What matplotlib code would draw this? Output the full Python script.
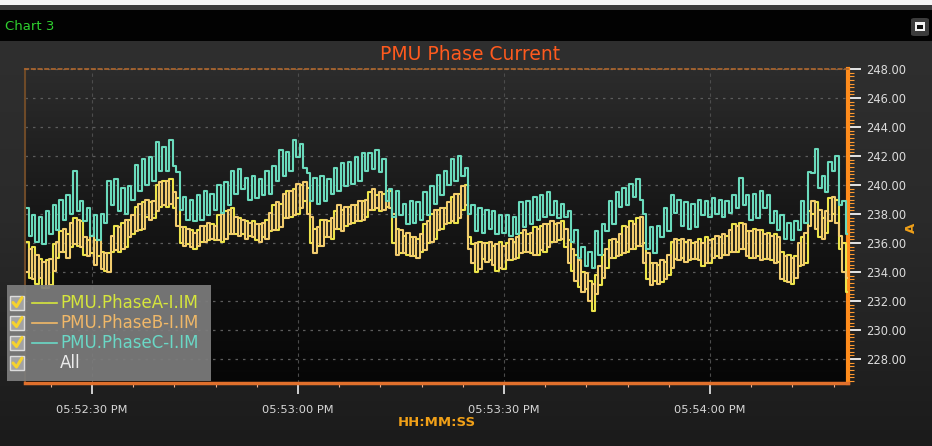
import numpy as np
import pandas as pd
import matplotlib
matplotlib.use("Agg")
import matplotlib.pyplot as plt
import matplotlib.dates as mdates
from matplotlib.patches import Rectangle, FancyBboxPatch
from matplotlib.lines import Line2D
from matplotlib.colors import LinearSegmentedColormap
from matplotlib.ticker import MultipleLocator

# ---------------- data (A, one sample every 0.5 s) ----------------
phase_a = [
    236.1, 233.6, 235.7, 233.2, 234.9, 232.9, 234.8, 233.1, 235.9, 235.0,
    236.8, 235.4, 236.6, 235.7, 237.7, 235.8, 237.5, 235.2, 236.2, 235.3,
    236.2, 235.1, 235.4, 234.1, 235.3, 235.4, 237.2, 235.4, 237.4, 235.7,
    237.6, 236.6, 238.5, 236.9, 238.8, 237.8, 238.8, 237.7, 240.0, 238.5,
    240.3, 238.5, 240.4, 238.4, 239.1, 236.0, 237.1, 235.9, 236.9, 235.6,
    236.9, 236.1, 237.2, 236.2, 237.3, 236.2, 237.9, 236.1, 238.2, 236.6,
    238.4, 236.6, 237.7, 236.6, 237.5, 236.5, 237.5, 236.2, 237.3, 236.4,
    237.6, 236.8, 238.6, 236.9, 238.7, 237.7, 239.6, 237.8, 239.7, 238.0,
    240.0, 238.9, 239.8, 236.0, 237.0, 235.8, 237.6, 236.4, 237.5, 236.3,
    238.2, 237.0, 238.3, 237.2, 238.5, 237.4, 238.6, 237.5, 238.9, 237.8,
    239.5, 238.3, 239.3, 238.2, 239.4, 238.5, 239.6, 236.0, 237.0, 235.3,
    236.5, 235.2, 236.4, 235.1, 236.3, 235.4, 237.3, 236.0, 238.0, 236.3,
    238.3, 237.0, 238.4, 237.4, 239.2, 237.4, 239.4, 238.3, 240.0, 236.4,
    235.9, 234.0, 236.1, 234.9, 236.0, 234.8, 235.8, 234.1, 236.1, 234.2,
    236.0, 234.8, 236.1, 235.0, 236.7, 235.4, 236.6, 235.3, 237.1, 235.2,
    237.2, 235.4, 237.3, 236.1, 237.3, 236.2, 237.5, 235.7, 236.2, 234.1,
    235.2, 233.0, 234.0, 232.8, 233.4, 231.3, 233.8, 233.1, 235.2, 234.3,
    236.2, 235.0, 236.1, 235.2, 237.2, 235.4, 237.5, 235.6, 237.7, 235.8,
    236.0, 233.5, 234.6, 233.4, 234.5, 233.3, 234.7, 233.8, 236.1, 234.9,
    236.2, 235.0, 236.1, 234.8, 236.0, 234.9, 236.3, 234.4, 236.4, 234.6,
    236.3, 235.1, 236.4, 235.2, 236.5, 235.4, 237.3, 235.4, 237.4, 235.6,
    236.8, 235.0, 237.0, 235.1, 236.9, 234.9, 236.7, 234.8, 236.6, 234.7,
    235.4, 233.4, 235.2, 233.2, 235.1, 234.4, 236.4, 234.6, 238.2, 238.0,
    238.8, 236.4, 237.7, 236.7, 239.1, 238.0, 239.0, 235.6, 236.0, 232.6,
]

phase_b = [
    234.0, 235.6, 233.5, 235.2, 233.6, 234.7, 232.9, 234.9, 234.1, 236.1,
    235.4, 237.0, 235.0, 237.4, 235.9, 237.6, 235.7, 236.4, 235.1, 236.5,
    234.5, 236.2, 234.2, 235.3, 234.0, 236.5, 235.5, 237.1, 235.6, 237.6,
    236.4, 237.9, 236.8, 238.7, 237.0, 239.0, 237.6, 238.9, 238.2, 240.2,
    238.6, 240.3, 238.7, 239.5, 237.2, 237.1, 235.8, 237.0, 235.7, 236.7,
    235.8, 237.2, 236.1, 237.4, 236.3, 237.2, 236.2, 238.0, 236.3, 238.3,
    236.6, 237.8, 236.5, 237.6, 236.3, 237.4, 236.4, 237.3, 236.1, 237.4,
    236.3, 238.1, 236.9, 238.8, 237.1, 239.4, 237.7, 239.6, 237.9, 240.1,
    238.4, 240.2, 238.0, 237.8, 235.3, 237.1, 235.8, 237.6, 236.4, 237.7,
    237.0, 238.6, 236.8, 238.5, 237.3, 238.6, 237.5, 238.9, 237.6, 239.0,
    238.3, 239.7, 238.4, 239.5, 238.3, 239.6, 238.4, 238.0, 235.2, 236.9,
    235.3, 236.7, 235.1, 236.4, 235.0, 236.6, 235.5, 237.5, 236.1, 238.3,
    236.9, 238.4, 237.3, 238.8, 237.5, 239.4, 237.7, 239.9, 238.6, 235.6,
    234.6, 236.0, 234.2, 236.0, 234.7, 236.1, 234.5, 235.9, 234.3, 235.8,
    234.8, 236.3, 234.9, 236.4, 235.3, 236.9, 235.4, 236.7, 235.2, 237.0,
    235.5, 237.3, 235.7, 237.5, 236.1, 237.4, 236.3, 237.0, 234.6, 235.6,
    233.4, 234.8, 232.6, 233.9, 232.0, 233.2, 232.5, 234.4, 233.6, 235.6,
    235.0, 236.3, 235.1, 236.6, 235.3, 237.1, 235.6, 237.3, 235.8, 237.8,
    234.6, 235.3, 233.1, 234.6, 233.2, 234.8, 233.5, 235.2, 234.3, 236.3,
    234.8, 236.3, 234.7, 236.2, 234.9, 236.1, 234.8, 236.0, 234.6, 236.2,
    235.0, 236.5, 235.0, 236.6, 235.2, 236.9, 235.4, 237.2, 235.6, 237.3,
    235.1, 236.8, 235.0, 236.9, 234.8, 236.6, 234.9, 236.5, 234.6, 236.4,
    233.5, 235.1, 233.3, 235.0, 233.6, 236.0, 234.5, 236.7, 237.2, 238.9,
    237.0, 238.3, 236.3, 238.2, 237.5, 239.2, 237.4, 236.5, 234.0, 233.6,
]

phase_c = [
    238.4, 236.5, 237.9, 236.1, 237.8, 235.9, 238.2, 236.6, 238.6, 236.9,
    239.0, 237.6, 239.3, 238.0, 241.0, 238.2, 238.9, 237.5, 238.4, 236.5,
    237.9, 236.2, 238.0, 237.4, 240.3, 238.6, 240.4, 238.2, 239.8, 238.0,
    239.9, 239.0, 241.4, 239.6, 241.8, 240.0, 241.9, 240.3, 243.0, 241.0,
    242.6, 241.0, 243.1, 241.3, 240.9, 238.3, 239.2, 237.6, 239.0, 237.5,
    239.3, 237.6, 239.6, 237.9, 239.4, 238.3, 240.0, 238.1, 240.2, 238.6,
    241.0, 239.4, 241.1, 239.7, 240.5, 239.0, 240.6, 239.1, 240.4, 239.3,
    241.0, 239.4, 241.3, 240.3, 242.4, 240.6, 242.3, 241.0, 243.1, 241.9,
    242.8, 241.2, 240.8, 238.9, 240.5, 238.7, 240.6, 238.9, 240.4, 239.4,
    241.2, 239.6, 241.5, 239.9, 241.6, 240.1, 241.9, 240.3, 242.2, 241.0,
    242.2, 241.1, 242.4, 240.9, 241.8, 238.9, 239.7, 237.8, 239.6, 237.9,
    238.7, 237.3, 238.9, 237.4, 238.8, 237.6, 239.5, 237.9, 239.9, 238.7,
    240.7, 239.3, 241.0, 240.0, 241.8, 240.3, 242.0, 240.6, 241.2, 238.0,
    238.6, 236.8, 238.4, 236.7, 238.3, 237.0, 238.2, 236.6, 237.9, 236.7,
    237.9, 236.5, 237.8, 236.6, 238.8, 237.1, 238.9, 237.3, 239.2, 237.6,
    239.3, 237.8, 239.5, 237.9, 238.9, 237.7, 238.7, 237.8, 238.2, 236.1,
    236.9, 235.0, 235.7, 234.4, 235.4, 234.3, 236.8, 235.2, 237.3, 236.8,
    238.9, 237.3, 239.5, 238.5, 239.8, 238.6, 240.1, 239.2, 240.4, 239.0,
    238.0, 235.6, 237.1, 235.3, 237.2, 236.4, 238.4, 236.8, 239.3, 238.1,
    239.0, 237.2, 238.8, 237.0, 238.7, 237.1, 239.0, 237.9, 238.9, 237.8,
    239.1, 238.0, 239.0, 237.8, 238.9, 238.1, 239.3, 238.4, 240.5, 238.6,
    239.3, 237.6, 239.4, 237.7, 239.6, 238.4, 239.3, 237.4, 238.2, 236.9,
    237.9, 236.3, 237.4, 236.2, 237.5, 236.9, 238.9, 237.4, 240.9, 240.8,
    242.5, 239.8, 240.6, 239.5, 241.6, 241.0, 242.0, 238.6, 238.9, 236.6,
]

series_values = [phase_a, phase_b, phase_c]
series_names = ["PMU.PhaseA-I.IM", "PMU.PhaseB-I.IM", "PMU.PhaseC-I.IM"]
series_colors = ["#ece44a", "#f2cc6e", "#6adabc"]
legend_colors = ["#d6e63c", "#f0b868", "#6ad8c6"]
y_ticks = [228, 230, 232, 234, 236, 238, 240, 242, 244, 246, 248]
start_time = "2020-01-01 17:52:20.500"
x_start = "2020-01-01 17:52:20.240"
x_end = "2020-01-01 17:54:20.100"
title_text = "PMU Phase Current"
x_label = "HH:MM:SS"
y_label = "A"
chart_name = "Chart 3"

times = pd.date_range(start_time, periods=len(phase_a), freq="500ms")

W, H = 932, 446
def fx(x):
    return x / W
def fy(y):
    return 1 - y / H

fig = plt.figure(figsize=(W / 100, H / 100), dpi=100)

# figure background gradient
bg = fig.add_axes([0, 0, 1, 1], zorder=-10)
bg.axis("off")
cm_bg = LinearSegmentedColormap.from_list("bg", ["#1b1b1b", "#2a2a2a", "#303030"])
bg.imshow(np.linspace(0, 1, 256).reshape(-1, 1)[::-1], cmap=cm_bg, aspect="auto",
          extent=[0, 1, 0, 1], origin="upper")
bg.set_xlim(0, 1); bg.set_ylim(0, 1)

# header strip
fig.add_artist(Rectangle((0, fy(5)), 1, 5 / H, transform=fig.transFigure,
                         facecolor="#f4f4f4", edgecolor="none", zorder=-5))
fig.add_artist(Rectangle((0, fy(10)), 1, 5 / H, transform=fig.transFigure,
                         facecolor="#3a3a3a", edgecolor="none", zorder=-5))
fig.add_artist(Rectangle((0, fy(41)), 1, 31 / H, transform=fig.transFigure,
                         facecolor="#020202", edgecolor="none", zorder=-5))
fig.text(fx(5), fy(27), chart_name, color="#2fd02f", fontsize=9.5,
         ha="left", va="center")
fig.add_artist(FancyBboxPatch((fx(911), fy(36)), 18 / W, 18 / H,
                              boxstyle="round,pad=0.0,rounding_size=0.004",
                              transform=fig.transFigure, facecolor="#3c3c3c",
                              edgecolor="none", zorder=2))
fig.add_artist(Rectangle((fx(915), fy(31)), 10 / W, 9 / H, transform=fig.transFigure,
                         facecolor="#f2f2f2", edgecolor="none", zorder=3))
fig.add_artist(Rectangle((fx(917), fy(29)), 6 / W, 4 / H, transform=fig.transFigure,
                         facecolor="#111111", edgecolor="none", zorder=4))

# plot area
pos = [fx(25), fy(383), 823 / W, 314 / H]
ax_bg = fig.add_axes(pos, zorder=0)
ax_bg.axis("off")
cm_plot = LinearSegmentedColormap.from_list("pl", ["#060606", "#151515", "#2c2c2c"])
ax_bg.imshow(np.linspace(0, 1, 256).reshape(-1, 1)[::-1], cmap=cm_plot, aspect="auto",
             extent=[0, 1, 0, 1], origin="upper")
ax_bg.set_xlim(0, 1); ax_bg.set_ylim(0, 1)

ax = fig.add_axes(pos, zorder=1)
ax.set_facecolor("none")

for vals, col in zip(series_values, series_colors):
    ax.plot(times, vals, color=col, lw=1.5, drawstyle="steps-mid", zorder=3)

ax.set_xlim(pd.Timestamp(x_start), pd.Timestamp(x_end))
ax.set_ylim(226.35, 248.0)

ax.yaxis.tick_right()
ax.set_yticks(y_ticks)
ax.yaxis.set_major_formatter(plt.FuncFormatter(lambda v, p: f"{v:.2f}"))
ax.yaxis.set_minor_locator(MultipleLocator(0.25))
ax.tick_params(axis="y", which="major", length=9, width=1.4, color="#e6e6e6",
               labelcolor="#dcdcdc", labelsize=8.3, pad=4)
ax.tick_params(axis="y", which="minor", length=4, width=0.8, color="#ff9a30")

ax.xaxis.set_major_locator(mdates.SecondLocator(bysecond=[0, 30]))
ax.xaxis.set_major_formatter(mdates.DateFormatter("%I:%M:%S %p"))
ax.xaxis.set_minor_locator(mdates.SecondLocator(bysecond=list(range(0, 60, 6))))
ax.tick_params(axis="x", which="major", length=8, width=1.2, color="#eeeeee",
               labelcolor="#d8d8d8", labelsize=8.2, pad=8)
ax.tick_params(axis="x", which="minor", length=3, width=0.8, color="#f0b090")

ax.grid(axis="y", which="major", color="#5c5c5c", linestyle=(0, (2, 4)), lw=0.9, zorder=1)
ax.grid(axis="x", which="major", color="#4c4c4c", linestyle=(0, (3, 3)), lw=0.8, zorder=1)

ax.spines["bottom"].set_color("#e0702c")
ax.spines["bottom"].set_linewidth(2.5)
ax.spines["right"].set_color("#ff8c1c")
ax.spines["right"].set_linewidth(3)
ax.spines["top"].set_color("#b0682e")
ax.spines["top"].set_linewidth(1.2)
ax.spines["top"].set_linestyle((0, (2, 2)))
ax.spines["left"].set_color("#6e4a28")
ax.spines["left"].set_linewidth(1.5)

# title and axis labels
fig.text(fx(470), fy(55), title_text, color="#ff5a1e", fontsize=13.5,
         ha="center", va="center")
fig.text(fx(437), fy(423), x_label, color="#f0a018", fontsize=9.5,
         fontweight="bold", ha="center", va="center")
fig.text(fx(911), fy(228), y_label, color="#f0a018", fontsize=9.5,
         fontweight="bold", rotation=90, ha="center", va="center")

# legend panel
fig.add_artist(Rectangle((fx(7), fy(381)), 204 / W, 96 / H, transform=fig.transFigure,
                         facecolor="#7c7c7c", edgecolor="none", alpha=0.93, zorder=10))
legend_labels = series_names + ["All"]
legend_text_colors = legend_colors + ["#ececec"]
row_y = [302.5, 322.5, 342.5, 363]
for i, (lab, col, yc) in enumerate(zip(legend_labels, legend_text_colors, row_y)):
    fig.add_artist(Rectangle((fx(10), fy(yc + 7)), 14 / W, 14 / H,
                             transform=fig.transFigure, facecolor="#a2a2a2",
                             edgecolor="#dcdcdc", lw=1, zorder=11))
    fig.add_artist(Line2D([fx(13), fx(16.5), fx(22)], [fy(yc), fy(yc + 4), fy(yc - 5)],
                          transform=fig.transFigure, color="#f5d22e", lw=2.2,
                          solid_capstyle="round", zorder=12))
    if i < 3:
        fig.add_artist(Line2D([fx(32), fx(57)], [fy(yc), fy(yc)],
                              transform=fig.transFigure, color=col, lw=1.2, zorder=12))
    fig.text(fx(60), fy(yc), lab, color=col, fontsize=12, ha="left", va="center",
             zorder=12)

fig.savefig("out.png", dpi=100)
